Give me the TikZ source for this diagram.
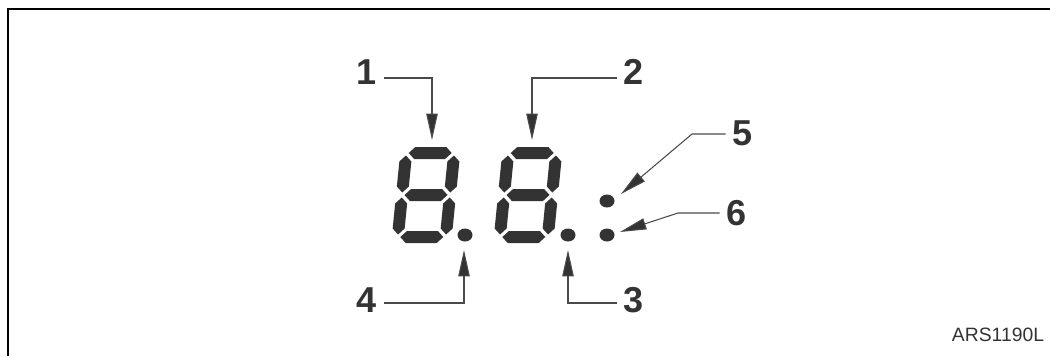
\documentclass[tikz,border=0pt]{standalone}
\usepackage{fontspec}
\setmainfont{Liberation Sans}
\usetikzlibrary{arrows.meta}

\definecolor{segcol}{HTML}{333333}
\definecolor{leadcol}{HTML}{4A4A4A}

\tikzset{
  seg/.style={fill=segcol},
  callout/.style={leadcol, line width=0.6pt, -{Triangle[length=15pt,width=6.5pt,fill=segcol]}},
  num/.style={font=\fontsize{20.5}{24}\selectfont\bfseries, text=segcol, inner sep=4pt},
}

% one horizontal / vertical segment of a seven segment digit
\newcommand{\hseg}[1]{\fill[seg] (-21.5,#1) -- (-15.5,#1+6) -- (15.5,#1+6) -- (21.5,#1) -- (15.5,#1-6) -- (-15.5,#1-6) -- cycle;}
\newcommand{\vseg}[2]{\fill[seg] (#1,#2) -- (#1+6,#2+6) -- (#1+6,#2+31) -- (#1,#2+37) -- (#1-6,#2+31) -- (#1-6,#2+6) -- cycle;}
% whole digit "8", centred at #1
\newcommand{\segdigit}[1]{%
  \begin{scope}[shift={#1}, xslant=0.1]
    \foreach \yy in {42,0,-42} {\hseg{\yy}}
    \foreach \xx in {-24,24} {\vseg{\xx}{2.5} \vseg{\xx}{-39.5}}
  \end{scope}}

\begin{document}
\begin{tikzpicture}[x=0.02cm, y=0.02cm]
  \useasboundingbox (0,0) rectangle (1050,356);

  % frame
  \draw[line width=1.7pt] (8,0) -- (8,347) -- (1050,347);

  % digits
  \segdigit{(426,161)}
  \segdigit{(528,161)}

  % decimal points and colon
  \fill[segcol] (465,121) ellipse (7.5 and 6.5);
  \fill[segcol] (568,121) ellipse (7.5 and 6.5);
  \fill[segcol] (607,155) ellipse (7.5 and 6.5);
  \fill[segcol] (607,121) ellipse (7.5 and 6.5);

  % arrow tips and bends
  \coordinate (t1) at (432,216);
  \coordinate (k1) at (432,278);
  \coordinate (t2) at (532,216);
  \coordinate (k2) at (532,278);
  \coordinate (t3) at (568,106);
  \coordinate (k3) at (568,53);
  \coordinate (t4) at (464,106);
  \coordinate (k4) at (464,53);
  \coordinate (t5) at (621,162);
  \coordinate (k5) at (692,222);
  \coordinate (t6) at (620,124);
  \coordinate (k6) at (678,143);

  % labels
  \node[num] (n1) at (367,284) {1};
  \node[num] (n2) at (634,284) {2};
  \node[num] (n3) at (634,56) {3};
  \node[num] (n4) at (367,56) {4};
  \node[num] (n5) at (743,223) {5};
  \node[num] (n6) at (737,143) {6};

  % callouts
  \draw[callout] (n1.east |- k1) -- (k1) -- (t1);
  \draw[callout] (n2.west |- k2) -- (k2) -- (t2);
  \draw[callout] (n3.west |- k3) -- (k3) -- (t3);
  \draw[callout] (n4.east |- k4) -- (k4) -- (t4);
  \draw[callout] (n5.west |- k5) -- (k5) -- (t5);
  \draw[callout] (n6.west |- k6) -- (k6) -- (t6);

  % figure code
  \node[font=\fontsize{11}{13}\selectfont, text=segcol] (code) at (998,21) {ARS1190L};
\end{tikzpicture}
\end{document}
